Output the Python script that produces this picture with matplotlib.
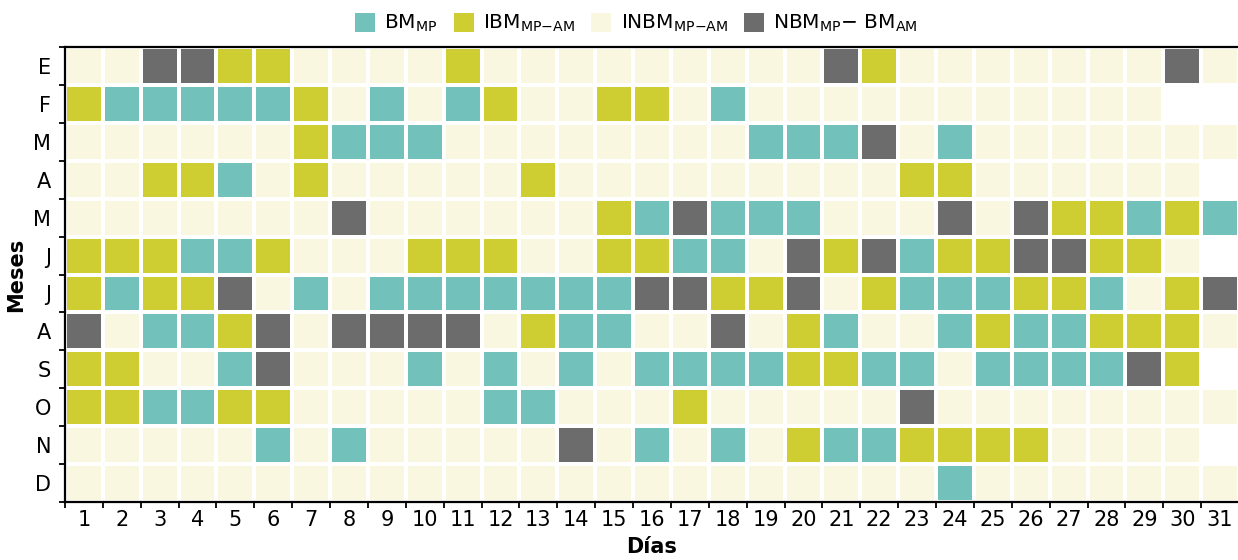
import numpy as np
import matplotlib
matplotlib.use("Agg")
import matplotlib.pyplot as plt
from matplotlib.colors import ListedColormap, BoundaryNorm
from matplotlib.patches import Patch

# T = BM_MP, Y = IBM_MP-AM, C = INBM_MP-AM, G = NBM_MP - BM_AM, . = no day
meses = ['E', 'F', 'M', 'A', 'M', 'J', 'J', 'A', 'S', 'O', 'N', 'D']
dias = list(range(1, 32))

ene = "CCGGYYCCCCYCCCCCCCCCGYCCCCCCCGC"
feb = "YTTTTTYCTCTYCCYYCTCCCCCCCCCCC.."
mar = "CCCCCCYTTTCCCCCCCCTTTGCTCCCCCCC"
abr = "CCYYTCYCCCCCYCCCCCCCCCYYCCCCCC."
may = "CCCCCCCGCCCCCCYTGTTTCCCGCGYYTYT"
jun = "YYYTTYCCCYYYCCYYTTCGYGTYYGGYYC."
jul = "YTYYGCTCTTTTTTTGGYYGCYTTTYYTCYG"
ago = "GCTTYGCGGGGCYTTCCGCYTCCTYTTYYYC"
sep = "YYCCTGCCCTCTCTCTTTTYYTTCTTTTGY."
octu = "YYTTYYCCCCCTTCCCYCCCCCGCCCCCCCC"
nov = "CCCCCTCTCCCCCGCTCTCYTTYYYYCCCC."
dic = "CCCCCCCCCCCCCCCCCCCCCCCTCCCCCCC"

categorias = ['T', 'Y', 'C', 'G']
etiquetas = [r'BM$_{\text{MP}}$',
             r'IBM$_{\text{MP' + '\u2212' + r'AM}}$',
             r'INBM$_{\text{MP' + '\u2212' + r'AM}}$',
             r'NBM$_{\text{MP}}$' + '\u2212 ' + r'BM$_{\text{AM}}$']
colores = ['#72c2bb', '#cece32', '#f9f7e0', '#6c6c6c']

filas = [ene, feb, mar, abr, may, jun, jul, ago, sep, octu, nov, dic]
codigo = {c: i for i, c in enumerate(categorias)}
datos = np.array([[codigo.get(ch, np.nan) for ch in fila] for fila in filas], dtype=float)
datos = np.ma.masked_invalid(datos)

fig = plt.figure(figsize=(12.38, 5.6), dpi=100)
ax = fig.add_axes([65 / 1238, 1 - 502 / 560, 1174 / 1238, 455 / 560])

cmap = ListedColormap(colores)
norm = BoundaryNorm([-0.5, 0.5, 1.5, 2.5, 3.5], cmap.N)
ax.pcolormesh(np.arange(len(dias) + 1), np.arange(len(meses) + 1), datos,
              cmap=cmap, norm=norm, edgecolors='white', linewidth=2.6)
ax.set_xlim(0, len(dias))
ax.set_ylim(len(meses), 0)

# ticks on the cell borders, labels in the middle
ax.set_xticks(np.arange(len(dias) + 1))
ax.set_yticks(np.arange(len(meses) + 1))
ax.set_xticklabels([])
ax.set_yticklabels([])
ax.set_xticks(np.arange(len(dias)) + 0.5, minor=True)
ax.set_yticks(np.arange(len(meses)) + 0.5, minor=True)
ax.set_xticklabels([str(d) for d in dias], minor=True, fontsize=15)
ax.set_yticklabels(meses, minor=True, fontsize=15)
ax.tick_params(which='major', length=4, width=1.3)
ax.tick_params(which='minor', length=0)
ax.tick_params(axis='x', which='minor', pad=6)
ax.tick_params(axis='y', which='minor', pad=10)

for s in ['left', 'top', 'bottom']:
    ax.spines[s].set_linewidth(1.6)
ax.spines['right'].set_visible(False)

ax.set_xlabel('Días', fontsize=15, fontweight='bold', labelpad=5)
ax.set_ylabel('Meses', fontsize=15, fontweight='bold', labelpad=5)

handles = [Patch(facecolor=c, edgecolor='none') for c in colores]
fig.legend(handles, etiquetas, loc='upper center', bbox_to_anchor=(0.514, 1.01),
           ncol=4, frameon=False, fontsize=14.5, handlelength=1.0, handleheight=1.1,
           columnspacing=0.8, handletextpad=0.45)

plt.savefig('out.png', dpi=100)
